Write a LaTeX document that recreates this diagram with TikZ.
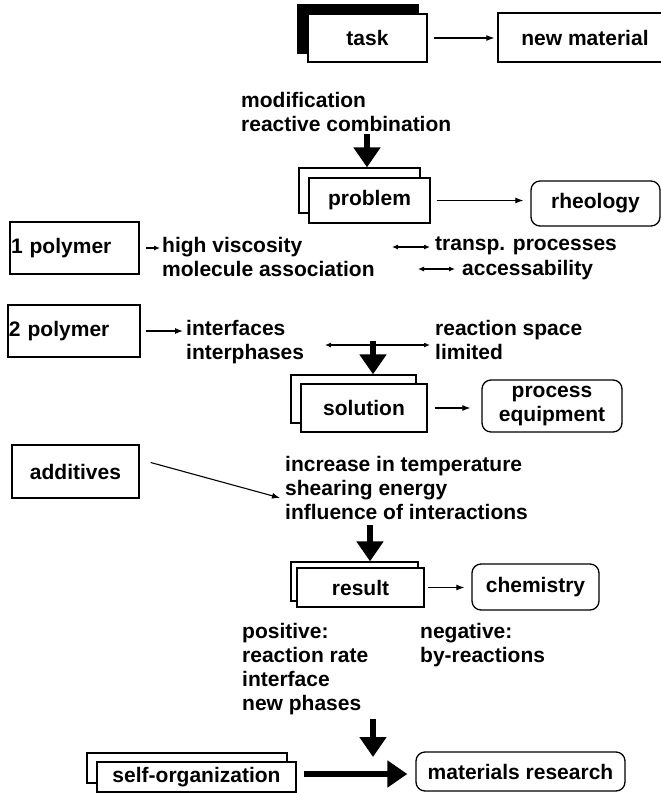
\documentclass[tikz,border=0pt]{standalone}
\usepackage{fontspec}
\setmainfont{Liberation Sans}
\usetikzlibrary{arrows.meta}

\tikzset{
  box/.style={draw,line width=1.3pt,fill=white,inner sep=0pt},
  rbox/.style={box,rounded corners=9pt},
  txt/.style={anchor=north west,align=left,inner sep=0pt},
  arr/.style={-{Latex[length=8pt,width=6pt]},line width=1.1pt},
  dblarr/.style={{Latex[length=6pt,width=5pt]}-{Latex[length=6pt,width=5pt]},line width=1.1pt},
  bigarr/.style={-{Triangle[length=20pt,width=26pt]},line width=6pt},
}

\begin{document}
\begin{tikzpicture}[x=1pt,y=-1pt,font=\bfseries\fontsize{21}{24}\selectfont]
\useasboundingbox (0,0) rectangle (661,793);
% task -> new material
\node[box,fill=black,minimum width=120pt,minimum height=48pt] (taskb) at (358,29) {};
\node[box,minimum width=119pt,minimum height=48pt] (task) at (367.5,38) {task};
\node[box,minimum width=174pt,minimum height=49pt] (newmat) at (585,37.5) {new material};
\draw[arr,shorten <=6pt,shorten >=3pt] (task.east) -- (task.east -| newmat.west);

\node[txt] (mods) at (241,92) {modification\\reactive combination};
\coordinate (b1) at (367,134);

% problem
\node[box,minimum width=121pt,minimum height=45pt] (problemb) at (359.5,190.5) {};
\node[box,minimum width=121pt,minimum height=45pt] (problem) at (369.5,200.5) {problem};
\node[rbox,minimum width=129pt,minimum height=45pt] (rheology) at (595.5,203.5) {rheology};
\draw[bigarr] (b1) -- (b1 |- problemb.north);
\draw[arr,shorten <=6pt,shorten >=7pt] (problem.east) -- (problem.east -| rheology.west);

% 1 polymer
\node[box,minimum width=129pt,minimum height=52pt,text width=127pt,align=left] (poly1) at (74.5,248) {1 polymer};
\node[txt] (viscos) at (162,237) {high viscosity\\molecule association};
\node[txt] (transp) at (435,237) {transp. processes};
\node[txt] (access) at (462,260) {accessability};
\draw[arr,-{Latex[length=6pt,width=5pt]},shorten <=6pt,shorten >=2pt] (poly1.east) -- (poly1.east -| viscos.west);
\coordinate (d1) at (392,247);
\coordinate (d2) at (418,269);
\draw[dblarr,shorten >=5pt] (d1) -- (d1 -| transp.west);
\draw[dblarr,shorten >=7pt] (d2) -- (d2 -| access.west);

% 2 polymer
\node[box,minimum width=132pt,minimum height=52pt,text width=130pt,align=left] (poly2) at (74,331) {2 polymer};
\node[txt] (interf) at (186,320) {interfaces\\interphases};
\node[txt] (space) at (435,320) {reaction space\\limited};
\draw[arr,shorten <=5pt,shorten >=3pt] (poly2.east) -- (poly2.east -| interf.west);
\coordinate (d3) at (325,345);
\draw[dblarr,shorten >=5pt] (d3) -- (d3 -| space.west);

% solution
\node[box,minimum width=125pt,minimum height=48pt] (solutionb) at (353.5,399) {};
\node[box,minimum width=126pt,minimum height=48pt] (solution) at (364,408) {solution};
\node[rbox,minimum width=140pt,minimum height=52pt,align=center] (equip) at (552,406) {process\\equipment};
\coordinate (b2) at (373,341);
\draw[bigarr] (b2) -- (b2 |- solutionb.north);
\draw[arr,shorten <=7pt,shorten >=11pt] (solution.east) -- (solution.east -| equip.west);

% additives
\node[box,minimum width=127pt,minimum height=53pt] (additives) at (75.5,471.5) {additives};
\node[txt] (conditions) at (285,456) {increase in temperature\\shearing energy\\influence of interactions};
\draw[arr] ([xshift=11pt,yshift=9pt]additives.east) -- ([xshift=-5pt,yshift=-10pt]conditions.west);

% result
\coordinate (b3) at (370,525);
\node[box,minimum width=127pt,minimum height=39pt] (resultb) at (354.5,581.5) {};
\node[box,minimum width=127pt,minimum height=39pt] (result) at (360.5,587.5) {result};
\node[rbox,minimum width=127pt,minimum height=46pt] (chemistry) at (535.5,587) {chemistry};
\draw[bigarr] (b3) -- (b3 |- resultb.north);
\draw[arr,shorten <=3pt,shorten >=7pt] (result.east) -- (result.east -| chemistry.west);

\node[txt] (positive) at (242,623) {positive:\\reaction rate\\interface\\new phases};
\node[txt] (negative) at (420,623) {negative:\\by-reactions};

% self-organization -> materials research
\node[box,minimum width=200pt,minimum height=30pt] (selforgb) at (187,768) {};
\node[box,minimum width=199pt,minimum height=30pt] (selforg) at (196.5,777) {self-organization};
\node[rbox,minimum width=209pt,minimum height=39pt] (matres) at (520.5,771.5) {materials research};
\coordinate (b4) at (373,719);
\coordinate (b5) at (373,757);
\draw[bigarr] (b4) -- (b5);
\draw[bigarr,shorten <=7pt,shorten >=8pt] ([yshift=3pt]selforg.east) -- ([yshift=3pt]selforg.east -| matres.west);
\end{tikzpicture}
\end{document}
